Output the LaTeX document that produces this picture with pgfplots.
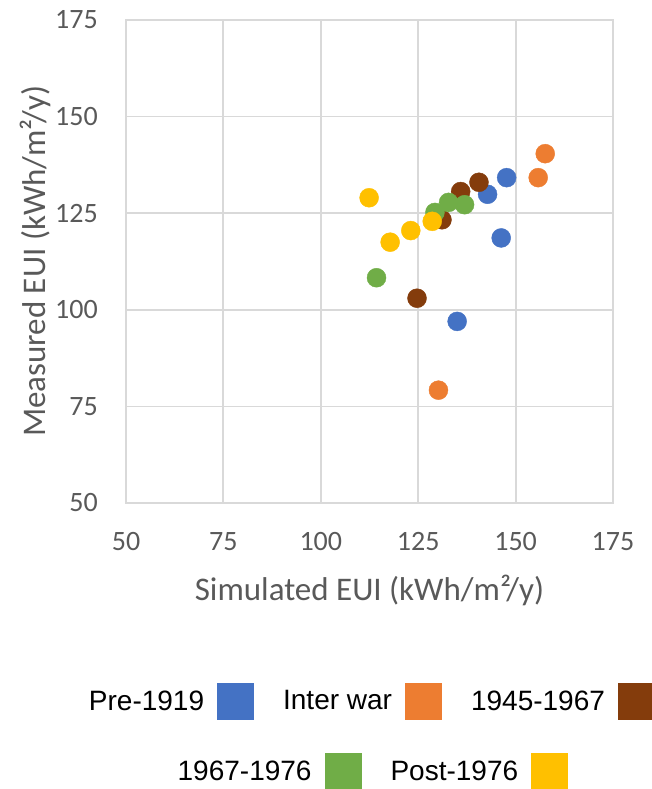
\documentclass[border=0pt]{standalone}
\usepackage{pgfplots}
\pgfplotsset{compat=1.18}
\usepackage{fontspec}
\setmainfont{Carlito}
\newfontfamily\legfont{Liberation Sans}
\definecolor{cA}{HTML}{4472C4}
\definecolor{cB}{HTML}{ED7D31}
\definecolor{cC}{HTML}{843C0C}
\definecolor{cD}{HTML}{70AD47}
\definecolor{cE}{HTML}{FFC000}
\definecolor{txt}{HTML}{595959}
\definecolor{grd}{HTML}{D9D9D9}
\pgfplotsset{
  sqlegend/.style={
    legend plot pos=right,
    legend image code/.code={\fill[##1] (0pt,-18.5pt) rectangle (37pt,18.5pt);},
    legend style={draw=none, fill=none, font=\fontsize{28}{30}\selectfont\legfont,
      text=black, inner sep=0pt, row sep=0pt,
      /tikz/every odd column/.append style={column sep=11pt},
      /tikz/every even column/.append style={column sep=27pt}},
  }
}
\begin{document}
\begin{tikzpicture}
\useasboundingbox (-126pt,-286pt) rectangle (525pt,503pt);
\begin{axis}[
  at={(0pt,0pt)}, anchor=south west,
  scale only axis, width=487pt, height=483pt,
  xmin=50, xmax=175, ymin=50, ymax=175,
  xtick={50,75,...,175}, ytick={50,75,...,175},
  grid=major, major grid style={draw=grd, line width=1.8pt},
  axis line style={draw=grd, line width=1.8pt},
  tick style={draw=none},
  /pgf/number format/assume math mode=true,
  ticklabel style={font=\fontsize{28}{30}\selectfont, text=txt, inner sep=0pt},
  xticklabel style={anchor=north, yshift=-29pt},
  yticklabel style={anchor=east, xshift=-28pt},
  xlabel={Simulated EUI (kWh/m²/y)},
  ylabel={Measured EUI (kWh/m²/y)},
  label style={font=\fontsize{33}{35}\selectfont, text=txt},
  xlabel style={at={(axis description cs:0.5,0)}, anchor=center, yshift=-87pt},
  ylabel style={at={(axis description cs:0,0.5)}, anchor=center, xshift=0pt, yshift=91pt},
  sqlegend,
  legend columns=3,
  legend style={at={(0.503,-0.41)}, anchor=center},
]
\addlegendimage{fill=cA, draw=none}\addlegendentry{Pre-1919}
\addlegendimage{fill=cB, draw=none}\addlegendentry{Inter war}
\addlegendimage{fill=cC, draw=none}\addlegendentry{1945-1967}
\addplot[forget plot, only marks, mark=*, mark size=9.5pt, color=cA] coordinates {
(147.7,134.2) (142.8,129.9) (146.3,118.6) (135.0,97.0)};
\addplot[forget plot, only marks, mark=*, mark size=9.5pt, color=cB] coordinates {
(157.6,140.4) (155.8,134.2) (130.2,79.2)};
\addplot[forget plot, only marks, mark=*, mark size=9.5pt, color=cC] coordinates {
(140.6,133.0) (135.9,130.6) (131.1,123.3) (124.7,103.0)};
\addplot[forget plot, only marks, mark=*, mark size=9.5pt, color=cD] coordinates {
(132.8,127.8) (136.9,127.2) (129.3,125.2) (114.3,108.3)};
\addplot[forget plot, only marks, mark=*, mark size=9.5pt, color=cE] coordinates {
(112.4,129.0) (128.6,122.9) (123.1,120.5) (117.8,117.5)};
\end{axis}
\begin{axis}[
  at={(0pt,0pt)}, anchor=south west,
  scale only axis, width=487pt, height=483pt,
  xmin=0, xmax=1, ymin=0, ymax=1, hide axis,
  sqlegend,
  legend columns=2,
  legend style={at={(0.505,-0.555)}, anchor=center},
]
\addlegendimage{fill=cD, draw=none}\addlegendentry{1967-1976}
\addlegendimage{fill=cE, draw=none}\addlegendentry{Post-1976}
\end{axis}
\end{tikzpicture}
\end{document}
